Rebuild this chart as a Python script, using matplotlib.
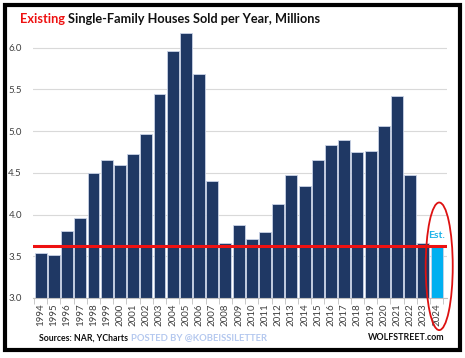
import matplotlib.pyplot as plt
from matplotlib.patches import Ellipse, Rectangle

years = [str(y) for y in range(1994, 2025)]
sales = [3.54, 3.52, 3.80, 3.96, 4.50, 4.65, 4.60, 4.73, 4.97, 5.45,
         5.96, 6.18, 5.68, 4.40, 3.66, 3.87, 3.71, 3.79, 4.13, 4.48,
         4.34, 4.65, 4.83, 4.89, 4.75, 4.76, 5.06, 5.42, 4.48, 3.66, 3.62]
estimated = [False] * 30 + [True]
ref_level = 3.62

navy = "#1f3864"
sky = "#00b0f0"
red = "#ee1111"

plt.rcParams['font.family'] = ['Lato', 'DejaVu Sans']

fig = plt.figure(figsize=(4.65, 3.58), dpi=100)
ax = fig.add_axes([0.071, 0.1676, 0.890, 0.7455])

x = range(len(years))
colors = [sky if e else navy for e in estimated]
ax.bar(x, sales, width=0.9, bottom=0, color=colors, edgecolor="#c9d3e6",
       linewidth=0.6, zorder=2)

ax.set_ylim(3.0, 6.2)
ax.set_xlim(-0.58, len(years) - 0.22)
ax.set_yticks([3.0, 3.5, 4.0, 4.5, 5.0, 5.5, 6.0])
ax.set_yticklabels(["%.1f" % v for v in [3.0, 3.5, 4.0, 4.5, 5.0, 5.5, 6.0]],
                   fontsize=7, color="#404040")
ax.set_xticks(list(x))
ax.set_xticklabels(years, rotation=90, fontsize=7, color="#404040")
ax.set_xticks([i - 0.5 for i in range(len(years) + 1)], minor=True)
ax.tick_params(axis="x", which="major", length=0, pad=4)
ax.tick_params(axis="x", which="minor", length=4, color="#bfbfbf")
ax.tick_params(axis="y", length=0, pad=8)
ax.grid(axis="y", color="#d9d9d9", linewidth=0.8, zorder=0)
for s in ["top", "right", "left"]:
    ax.spines[s].set_visible(False)
ax.spines["bottom"].set_color("#bfbfbf")

# reference level and the circled estimate
ax.axhline(ref_level, color=red, linewidth=2.2, zorder=3)
ax.add_patch(Ellipse((30.2, 3.38), 2.05, 1.53, fill=False, edgecolor="#dd1111",
                     linewidth=1.3, clip_on=False, zorder=4))
ax.text(30, sales[-1] + 0.07, "Est.", color="#1fb3e8", fontsize=7.5,
        fontweight="bold", ha="center", va="bottom", zorder=5)

# title
t1 = fig.text(0.043, 0.948, "Existing ", color="#ee1111", fontsize=9.2,
              fontweight="bold", va="center")
fig.canvas.draw()
bb = t1.get_window_extent()
fig.text(bb.x1 / fig.bbox.width, 0.948, "Single-Family Houses Sold per Year, Millions",
         color="#111111", fontsize=9.2, fontweight="bold", va="center")

# footer
fig.text(0.084, 0.056, "Sources: NAR, YCharts", fontsize=6.3, fontweight="bold",
         color="#111111", va="center")
fig.text(0.282, 0.056, "POSTED BY @KOBEISSILETTER", fontsize=6.8, fontweight="bold",
         color="#b4c8ef", va="center")
fig.text(0.955, 0.056, "WOLFSTREET.com", fontsize=6.4, fontweight="bold",
         color="#111111", va="center", ha="right")

# frame
fig.patches.append(Rectangle((0.011, 0.022), 0.978, 0.965, transform=fig.transFigure,
                             fill=False, edgecolor="black", linewidth=3))

fig.savefig("out.png", dpi=100)
